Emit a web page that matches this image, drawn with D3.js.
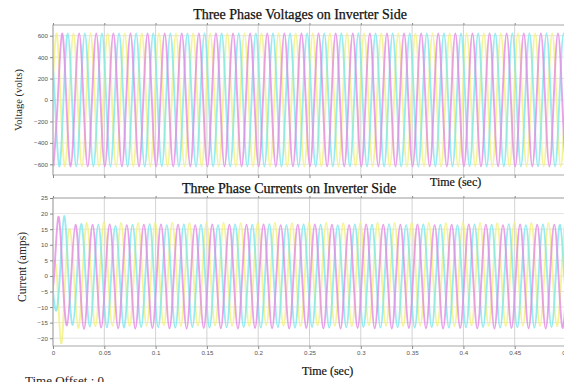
<!DOCTYPE html>
<html><head><meta charset="utf-8">
<script src="https://cdn.jsdelivr.net/npm/d3@7"></script>
<style>body{margin:0;background:#fff}svg{display:block}</style>
</head><body><svg id="c" width="564" height="382"></svg>
<script>
// ---- data ----
const timeTicks = [0, 0.05, 0.1, 0.15, 0.2, 0.25, 0.3, 0.35, 0.4, 0.45, 0.5];
const timeTickLabels = ["0", "0.05", "0.1", "0.15", "0.2", "0.25", "0.3", "0.35", "0.4", "0.45", "0.5"];
const voltageTicks = [-600, -400, -200, 0, 200, 400, 600];
const currentTicks = [-20, -15, -10, -5, 0, 5, 10, 15, 20, 25];
const frequency = 60; // Hz, ~17 px per cycle
const phaseNames = ["yellow", "cyan", "magenta"];
// time of the first listed half-cycle peak for each phase (s)
const voltageFirstPeak = [-0.0051, -0.0023, 0.0005];
const currentFirstPeak = [-0.0004, -0.0058, -0.0031];
// successive half-cycle peak values (signed)
const voltageYellow = [-620,620,-620,620,-620,620,-620,620,-620,620,-620,620,-620,620,-620,620,-620,620,-620,620,-620,620,-620,620,-620,620,-620,620,-620,620,-620,620,-620,620,-620,620,-620,620,-620,620,-620,620,-620,620,-620,620,-620,620,-620,620,-620,620,-620,620,-620,620,-620,620,-620,620,-620,620,-620,620];
const voltageCyan = [620,-620,620,-620,620,-620,620,-620,620,-620,620,-620,620,-620,620,-620,620,-620,620,-620,620,-620,620,-620,620,-620,620,-620,620,-620,620,-620,620,-620,620,-620,620,-620,620,-620,620,-620,620,-620,620,-620,620,-620,620,-620,620,-620,620,-620,620,-620,620,-620,620,-620,620,-620,620,-620];
const voltageMagenta = [-620,620,-620,620,-620,620,-620,620,-620,620,-620,620,-620,620,-620,620,-620,620,-620,620,-620,620,-620,620,-620,620,-620,620,-620,620,-620,620,-620,620,-620,620,-620,620,-620,620,-620,620,-620,620,-620,620,-620,620,-620,620,-620,620,-620,620,-620,620,-620,620,-620,620,-620,620,-620,620];
const currentYellow = [3,-21.6,15.0,-16.7,17.0,-16.2,17.2,-16.0,17.0,-16.1,
  16.9,-16.0,17.1,-15.8,17.0,-16.1,16.9,-16.0,17.1,-15.9,
  17.0,-16.0,16.9,-16.1,17.1,-15.8,17.0,-16.0,16.9,-16.1,
  17.1,-15.9,17.0,-16.0,16.9,-16.1,17.1,-15.8,17.0,-16.0,
  16.9,-16.1,17.1,-15.9,17.0,-16.0,16.9,-16.1,17.1,-15.8,
  17.0,-16.0,16.9,-16.1,17.1,-15.9,17.0,-16.0,16.9,-16.1,17.1,-15.9];
const currentCyan = [3,-11,19.2,-15.7,16.7,-16.3,16.4,-16.5,16.0,-16.6,
  16.4,-16.4,16.6,-16.5,16.3,-16.6,16.5,-16.4,16.4,-16.6,
  16.3,-16.5,16.5,-16.4,16.4,-16.6,16.6,-16.5,16.3,-16.6,
  16.5,-16.4,16.4,-16.6,16.3,-16.5,16.5,-16.4,16.4,-16.6,
  16.6,-16.5,16.3,-16.6,16.5,-16.4,16.4,-16.6,16.3,-16.5,
  16.5,-16.4,16.4,-16.6,16.6,-16.5,16.3,-16.6,16.5,-16.4,16.4,-16.6];
const currentMagenta = [-8,19.0,-15.9,16.4,-17.0,16.4,-16.6,16.5,-16.8,16.3,
  -16.9,16.4,-16.7,16.5,-16.8,16.4,-16.9,16.3,-16.7,16.5,
  -16.8,16.4,-16.9,16.4,-16.7,16.5,-16.8,16.3,-16.9,16.4,
  -16.7,16.5,-16.8,16.4,-16.9,16.3,-16.7,16.5,-16.8,16.4,
  -16.9,16.4,-16.7,16.5,-16.8,16.3,-16.9,16.4,-16.7,16.5,
  -16.8,16.4,-16.9,16.3,-16.7,16.5,-16.8,16.4,-16.9,16.4,-16.7,16.5];
const phaseColors = ["#f3f07e", "#7ee7ee", "#e48be2"];

// ---- drawing ----
const svg = d3.select("#c");
const serif = "'Liberation Serif','Times New Roman',serif";
const sans = "'Liberation Sans',Arial,sans-serif";
const halfPeriod = 1 / (2 * frequency);

function wavePoints(peaks, t0) {
  const pts = [];
  peaks.forEach((v, i) => {
    const t = t0 + i * halfPeriod;
    if (i > 0) pts.push([t - halfPeriod / 2, 0]);
    pts.push([t, v]);
  });
  return pts;
}

function panel(opts) {
  const x = d3.scaleLinear().domain([0, 0.5]).range([53, 566]);
  const y = d3.scaleLinear().domain(opts.yDomain).range(opts.yRange);
  const g = svg.append("g");
  const top = opts.yRange[1], bottom = opts.yRange[0];
  const id = "clip" + opts.key;
  svg.append("clipPath").attr("id", id).append("rect")
    .attr("x", 53).attr("y", top).attr("width", 513).attr("height", bottom - top);
  // grid
  g.append("g").selectAll("line").data(opts.yTicks).join("line")
    .attr("x1", 53).attr("x2", 566).attr("y1", d => y(d)).attr("y2", d => y(d))
    .attr("stroke", "#e3e3e3").attr("stroke-width", 1);
  g.append("g").selectAll("line").data(timeTicks).join("line")
    .attr("x1", d => x(d)).attr("x2", d => x(d)).attr("y1", top).attr("y2", bottom)
    .attr("stroke", "#d2d2d2").attr("stroke-width", 1);
  // waves
  const line = d3.line().x(d => x(d[0])).y(d => y(d[1])).curve(d3.curveNatural);
  const wg = g.append("g").attr("clip-path", `url(#${id})`);
  opts.series.forEach((s, i) => {
    wg.append("path").attr("d", line(wavePoints(s, opts.firstPeak[i])))
      .attr("fill", "none").attr("stroke", phaseColors[i])
      .attr("stroke-width", 1.9).attr("stroke-opacity", 0.8);
  });
  // frame
  g.append("rect").attr("x", 53).attr("y", top).attr("width", 513).attr("height", bottom - top)
    .attr("fill", "none").attr("stroke", "#a8a8a8").attr("stroke-width", 1);
  // axes
  const ya = g.append("g").attr("transform", "translate(53,0)")
    .call(d3.axisLeft(y).tickValues(opts.yTicks).tickSize(3).tickPadding(2));
  const xb = g.append("g").attr("transform", `translate(0,${bottom})`)
    .call(d3.axisBottom(x).tickValues(timeTicks).tickSize(3).tickPadding(2)
      .tickFormat((d, i) => opts.xLabels ? timeTickLabels[i] : ""));
  const xt = g.append("g").attr("transform", `translate(0,${top})`)
    .call(d3.axisTop(x).tickValues(timeTicks).tickSize(2).tickFormat(""));
  [ya, xb, xt].forEach(a => {
    a.select(".domain").remove();
    a.selectAll(".tick line").attr("stroke", "#888");
    a.selectAll("text").attr("font-family", sans).attr("font-size", 6.2).attr("fill", "#555");
  });
  return { x, y };
}

panel({ key: "v", yDomain: [-700, 700], yRange: [175, 25], yTicks: voltageTicks,
  series: [voltageYellow, voltageCyan, voltageMagenta], firstPeak: voltageFirstPeak, xLabels: false });
panel({ key: "i", yDomain: [-22.5, 25], yRange: [346, 198], yTicks: currentTicks,
  series: [currentYellow, currentCyan, currentMagenta], firstPeak: currentFirstPeak, xLabels: true });

// texts
svg.append("text").attr("x", 300).attr("y", 19).attr("text-anchor", "middle")
  .attr("font-family", serif).attr("font-size", 14).attr("fill", "#111")
  .attr("stroke", "#111").attr("stroke-width", 0.25)
  .text("Three Phase Voltages on Inverter Side");
svg.append("text").attr("x", 289).attr("y", 193).attr("text-anchor", "middle")
  .attr("font-family", serif).attr("font-size", 14).attr("fill", "#111")
  .attr("stroke", "#111").attr("stroke-width", 0.25)
  .text("Three Phase Currents on Inverter Side");
svg.append("text").attr("x", 430).attr("y", 186)
  .attr("font-family", serif).attr("font-size", 12).attr("fill", "#111")
  .attr("stroke", "#111").attr("stroke-width", 0.2)
  .text("Time (sec)");
svg.append("text").attr("x", 302).attr("y", 375)
  .attr("font-family", serif).attr("font-size", 12).attr("fill", "#111")
  .attr("stroke", "#111").attr("stroke-width", 0.2)
  .text("Time (sec)");
svg.append("text").attr("transform", "translate(22,100) rotate(-90)").attr("text-anchor", "middle")
  .attr("font-family", serif).attr("font-size", 10.5).attr("fill", "#222")
  .text("Voltage (volts)");
svg.append("text").attr("transform", "translate(26,267) rotate(-90)").attr("text-anchor", "middle")
  .attr("font-family", serif).attr("font-size", 11.5).attr("fill", "#222")
  .text("Current (amps)");
svg.append("text").attr("x", 25).attr("y", 385)
  .attr("font-family", serif).attr("font-size", 13).attr("fill", "#222")
  .text("Time Offset : 0");
</script></body></html>
